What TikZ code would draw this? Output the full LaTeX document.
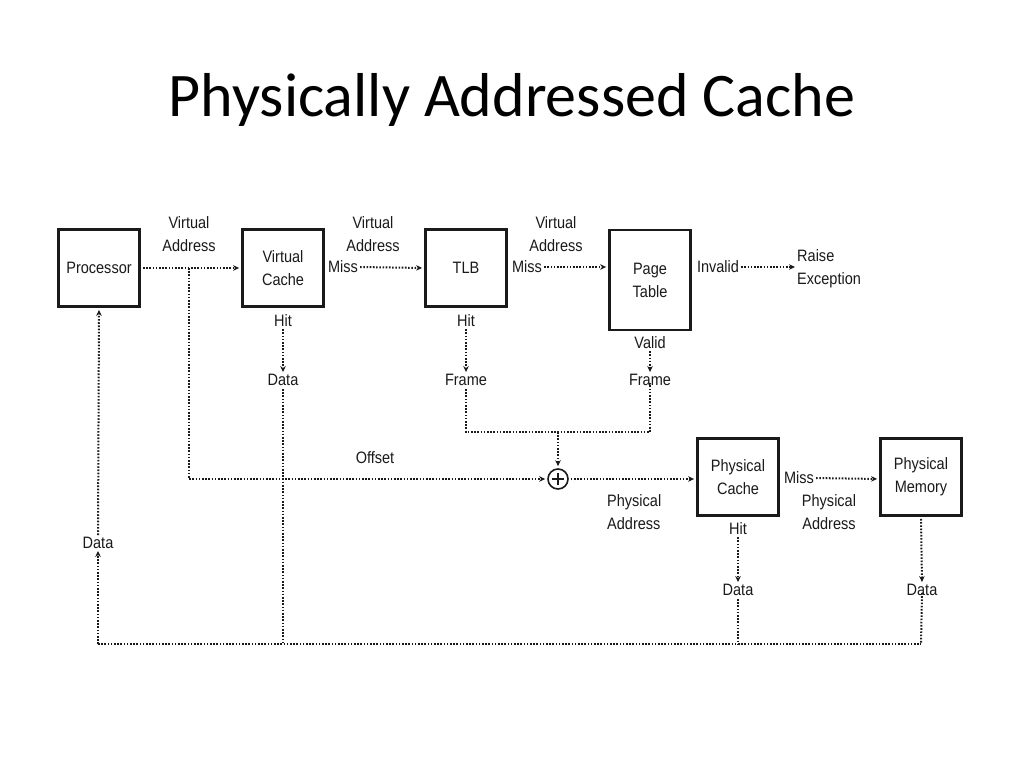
\documentclass[tikz,border=0pt]{standalone}
\usepackage{fontspec}
\setmainfont{Carlito}
\newfontfamily\diag[FakeStretch=0.88]{Liberation Sans}
\usetikzlibrary{arrows.meta}
\definecolor{ink}{HTML}{1A1A1A}
\begin{document}
\begin{tikzpicture}[x=1pt,y=-1pt,
  box/.style={draw=ink,line width=2.8pt,fill=white,minimum width=81pt,minimum height=77pt,inner sep=0pt,font=\diag\fontsize{16.5}{23}\selectfont,align=center,text=ink},
  lbl/.style={font=\diag\fontsize{16.5}{23}\selectfont,align=center,text=ink,inner sep=0pt},
  dotl/.style={draw=ink,line width=2pt,dash pattern=on 1.6pt off 1.6pt},
  arr/.style={dotl,-{Stealth[length=6pt,width=5.5pt]},shorten >=2pt,shorten <=2pt}]
\useasboundingbox (0,0) rectangle (1024,768);
\fill[white] (0,0) rectangle (1024,768);

\node[font=\fontsize{62}{70}\selectfont,text=black] (title) at (512,100) {Physically Addressed Cache};

% boxes
\node[box] (proc) at (99,268) {Processor};
\node[box] (vc) at (283,268) {Virtual\\Cache};
\node[box] (tlb) at (466,268) {TLB};
\node[box,minimum height=100pt] (pt) at (650,280) {Page\\Table};
\node[box] (pc) at (738,477) {Physical\\Cache};
\node[box] (pm) at (921,477) {Physical\\Memory};

% labels
\node[lbl] (va1) at (189,234) {Virtual\\Address};
\node[lbl] (va2) at (373,234) {Virtual\\Address};
\node[lbl] (va3) at (556,234) {Virtual\\Address};
\node[lbl] (miss1) at (343,267) {Miss};
\node[lbl] (miss2) at (527,267) {Miss};
\node[lbl] (inv) at (718,267) {Invalid};
\node[lbl,anchor=west,align=left] (raise) at (797,269) {Raise\\Exception};
\node[lbl] (hit1) at (283,321) {Hit};
\node[lbl] (data1) at (283,380) {Data};
\node[lbl] (hit2) at (466,321) {Hit};
\node[lbl] (frame1) at (466,380) {Frame};
\node[lbl] (valid) at (650,343) {Valid};
\node[lbl] (frame2) at (650,380) {Frame};
\node[lbl] (offset) at (375,458) {Offset};
\node[lbl,anchor=west,align=left] (pa1) at (607,512) {Physical\\Address};
\node[lbl] (miss3) at (799,478) {Miss};
\node[lbl] (pa2) at (829,512) {Physical\\Address};
\node[lbl] (hit3) at (738,529) {Hit};
\node[lbl] (data3) at (738,590) {Data};
\node[lbl] (data4) at (922,590) {Data};
\node[lbl] (data0) at (98,543) {Data};

% adder
\node[circle,draw=ink,line width=1.6pt,minimum size=20pt,inner sep=0pt] (plus) at (558,479) {};
\draw[ink,line width=1.4pt] ([yshift=-6pt]plus.center) -- ([yshift=6pt]plus.center);
\draw[ink,line width=1.4pt] ([xshift=-6pt]plus.center) -- ([xshift=6pt]plus.center);

% coordinates
\coordinate (s1) at (189,268);
\coordinate (fj) at (558,432);
\coordinate (bl) at (98,644);
\coordinate (br) at (921,644);

% connectors
\draw[arr] (proc.east) -- (vc.west);
\draw[arr,shorten <=0pt] (s1) |- (plus.west);
\draw[arr] (miss1.east) -- (tlb.west);
\draw[arr] (miss2.east) -- (pt.west |- miss2);
\draw[arr] (inv.east) -- (raise.west |- inv);
\draw[arr] (hit1) -- (data1);
\draw[arr] (hit2) -- (frame1);
\draw[arr] (valid) -- (frame2);
\draw[dotl] (frame1.south) ++(0,3) |- (fj) -| ([yshift=3pt]frame2.south);
\draw[arr,shorten <=0pt] (fj) -- (plus.north);
\draw[arr] (plus.east) -- (pc.west |- plus);
\draw[arr] (miss3.east) -- (pm.west |- plus);
\draw[arr] (hit3) -- (data3);
\draw[arr] (pm.south) -- (data4.north);
\draw[dotl] (data1.south) ++(0,3) -- (data1.south |- bl);
\draw[dotl] (data3.south) ++(0,3) -- (data3.south |- bl);
\draw[dotl] ([yshift=3pt]data4.south) -- (br);
\draw[dotl] (bl) -- (br);
\draw[arr,shorten <=0pt] (bl) -- (data0.south);
\draw[arr] (data0.north) -- (proc.south);
\end{tikzpicture}
\end{document}
